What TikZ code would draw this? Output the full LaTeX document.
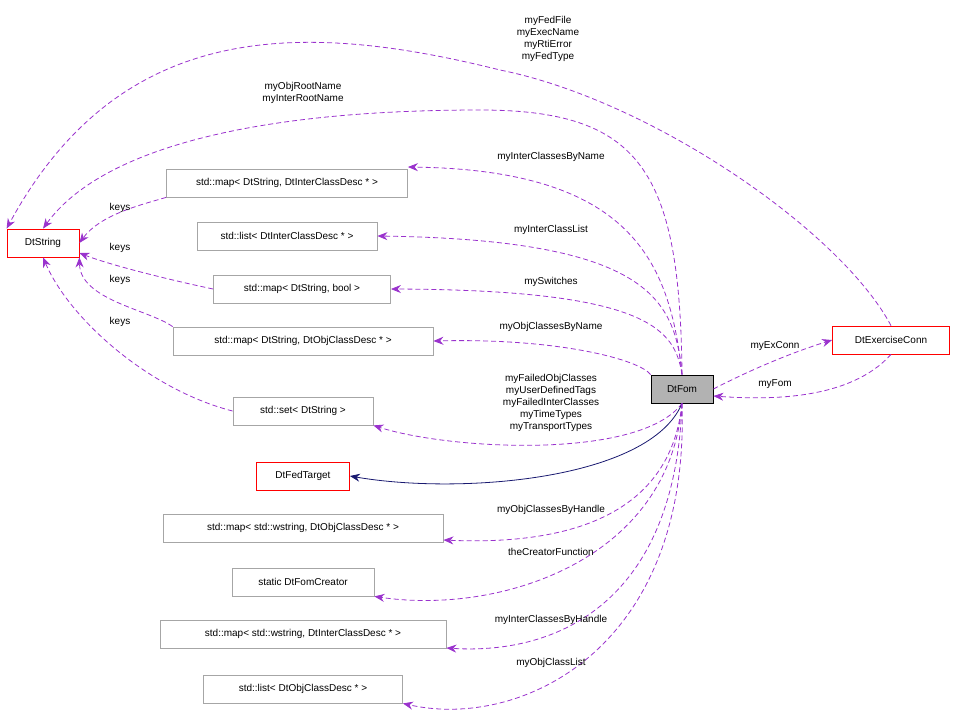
\documentclass[tikz,border=0pt]{standalone}
\usepackage{fontspec}
\setmainfont{Liberation Sans}
\usetikzlibrary{arrows.meta}
\definecolor{dorch}{HTML}{9A32CD}
\definecolor{navyc}{HTML}{191970}
\definecolor{rd}{HTML}{FF0000}
\begin{document}
\begin{tikzpicture}[x=1pt,y=-1pt,
 box/.style={draw=black!35,fill=white,minimum height=28pt,inner sep=0pt,line width=0.8pt,font=\fontsize{10}{12}\selectfont},
 redbox/.style={box,draw=rd},
 dep/.style={draw=dorch,line width=0.8pt,dash pattern=on 5pt off 3pt,-{Stealth[length=10pt,width=8pt]}},
 lab/.style={font=\fontsize{10}{12}\selectfont,align=center,inner sep=0pt}]
\useasboundingbox (0,0) rectangle (957,726);
\node[redbox,minimum width=72pt] (str) at (43,243) {DtString};
\node[box,minimum width=241pt] (m1) at (287,183) {std::map< DtString, DtInterClassDesc * >};
\node[box,minimum width=180pt] (l1) at (287,236) {std::list< DtInterClassDesc * >};
\node[box,minimum width=177pt] (m2) at (302,289) {std::map< DtString, bool >};
\node[box,minimum width=260pt] (m3) at (303,341) {std::map< DtString, DtObjClassDesc * >};
\node[box,minimum width=140pt] (s1) at (303,411) {std::set< DtString >};
\node[redbox,minimum width=93pt] (ft) at (303,476) {DtFedTarget};
\node[box,minimum width=280pt] (m4) at (303,528) {std::map< std::wstring, DtObjClassDesc * >};
\node[box,minimum width=142pt] (cr) at (303,582) {static DtFomCreator};
\node[box,minimum width=286pt] (m5) at (303,634) {std::map< std::wstring, DtInterClassDesc * >};
\node[box,minimum width=199pt] (l2) at (303,689) {std::list< DtObjClassDesc * >};
\node[box,draw=black,fill=black!30,minimum width=62pt] (fom) at (682,389) {DtFom};
\node[redbox,minimum width=117pt] (ex) at (891,340) {DtExerciseConn};
% edges from DtFom
\draw[dep] (fom.north) .. controls (670,260) and (630,170) .. (m1.east|-0,167);
\node[lab] at (551,157) {myInterClassesByName};
\draw[dep] (fom.north) .. controls (675,300) and (650,240) .. (l1.east);
\node[lab] at (551,230) {myInterClassList};
\draw[dep] (fom.north) .. controls (675,330) and (650,290) .. (m2.east);
\node[lab] at (551,282) {mySwitches};
\draw[dep] (fom.north west) .. controls (640,360) and (560,338) .. (m3.east);
\node[lab] at (551,327) {myObjClassesByName};
\draw[dep] (fom.south) .. controls (640,460) and (450,450) .. (s1.south east);
\node[lab] at (551,403) {myFailedObjClasses\\myUserDefinedTags\\myFailedInterClasses\\myTimeTypes\\myTransportTypes};
\draw[draw=navyc,line width=0.8pt,-{Stealth[length=10pt,width=8pt]}] (fom.south) .. controls (650,480) and (460,495) .. (ft.east);
\draw[dep] (fom.south) .. controls (670,520) and (560,545) .. (m4.east|-0,540);
\node[lab] at (551,510) {myObjClassesByHandle};
\draw[dep] (fom.south) .. controls (670,560) and (500,615) .. (cr.south east);
\node[lab] at (551,552) {theCreatorFunction};
\draw[dep] (fom.south) .. controls (675,600) and (560,655) .. (m5.east|-0,648);
\node[lab] at (551,620) {myInterClassesByHandle};
\draw[dep] (fom.south) .. controls (690,650) and (520,730) .. (l2.south east);
\node[lab] at (551,663) {myObjClassList};
% keys
\draw[dep] (m1.south west) .. controls (140,205) and (100,215) .. (str.east);
\node[lab] at (120,208) {keys};
\draw[dep] (m2.west) .. controls (170,280) and (110,265) .. (str.east|-0,253);
\node[lab] at (120,248) {keys};
\draw[dep] (m3.north west) .. controls (150,310) and (80,300) .. (str.south east);
\node[lab] at (120,280) {keys};
\draw[dep] (s1.west) .. controls (150,390) and (70,320) .. (str.south);
\node[lab] at (120,322) {keys};
% long ones
\draw[dep] (fom.north) .. controls (680,170) and (640,110) .. (480,110) .. controls (250,110) and (100,150) .. (str.north);
\node[lab] at (303,93) {myObjRootName\\myInterRootName};
\draw[dep] (ex.north) .. controls (840,230) and (650,100) .. (500,70) .. controls (300,20) and (120,20) .. (str.north west);
\node[lab] at (548,39) {myFedFile\\myExecName\\myRtiError\\myFedType};
\draw[dep] (fom.east) .. controls (760,365) and (800,350) .. (ex.west);
\node[lab] at (775,346) {myExConn};
\draw[dep] (ex.south) .. controls (850,400) and (770,400) .. (fom.east|-0,396);
\node[lab] at (775,384) {myFom};
\end{tikzpicture}
\end{document}
